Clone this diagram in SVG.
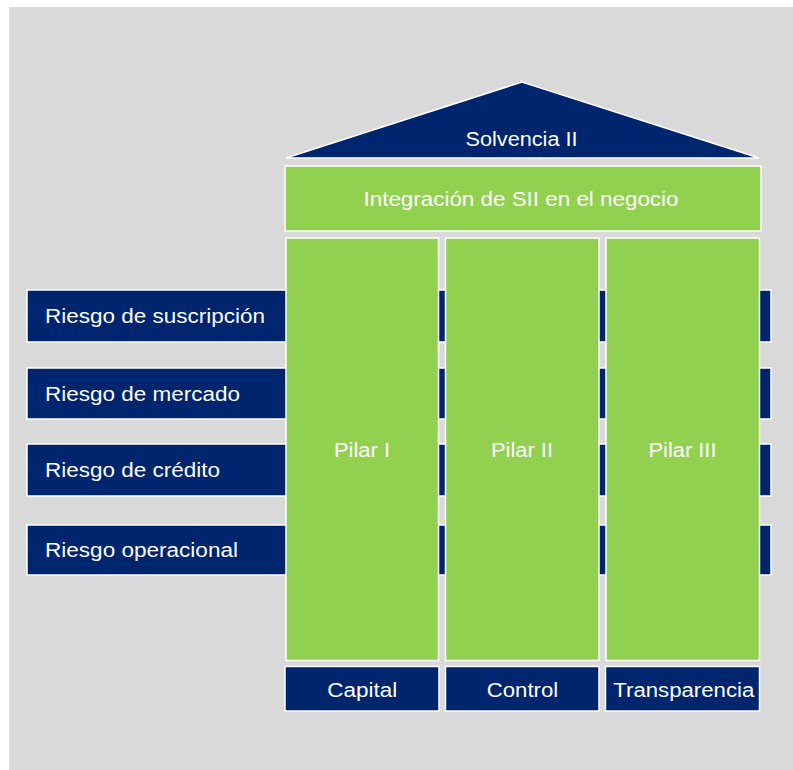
<svg xmlns="http://www.w3.org/2000/svg" width="793" height="770" viewBox="0 0 793 770">
<style>
.blue{fill:#00256F;stroke:#FFFFFF;stroke-width:1.5}
.green{fill:#92D050;stroke:#FFFFFF;stroke-width:1.5}
.t{font-family:"Liberation Sans",Arial,sans-serif;font-size:20px;fill:#FFFFFF}
.c{text-anchor:middle}
</style>
<rect x="0" y="0" width="793" height="770" fill="#FFFFFF"/>
<rect x="9" y="7" width="784" height="763" fill="#D9D9D9"/>
<g id="riesgo-suscripcion">
<rect class="blue" x="27" y="290" width="744" height="52"/>
<text class="t" x="45" y="323" textLength="220" lengthAdjust="spacingAndGlyphs">Riesgo de suscripción</text>
</g>
<g id="riesgo-mercado">
<rect class="blue" x="27" y="368" width="744" height="51"/>
<text class="t" x="45" y="401" textLength="195" lengthAdjust="spacingAndGlyphs">Riesgo de mercado</text>
</g>
<g id="riesgo-credito">
<rect class="blue" x="27" y="444" width="744" height="52"/>
<text class="t" x="45" y="477" textLength="175" lengthAdjust="spacingAndGlyphs">Riesgo de crédito</text>
</g>
<g id="riesgo-operacional">
<rect class="blue" x="27" y="525" width="744" height="50"/>
<text class="t" x="45" y="557" textLength="193" lengthAdjust="spacingAndGlyphs">Riesgo operacional</text>
</g>
<g id="solvencia">
<polygon class="blue" points="522,82 286,158 759,158"/>
<text class="t c" x="521.5" y="146" textLength="112" lengthAdjust="spacingAndGlyphs">Solvencia II</text>
</g>
<g id="integracion">
<rect class="green" x="285" y="166" width="476" height="65"/>
<text class="t c" x="521" y="206" textLength="315" lengthAdjust="spacingAndGlyphs">Integración de SII en el negocio</text>
</g>
<g id="pilar1">
<rect class="green" x="286" y="238" width="152.5" height="422.5"/>
<text class="t c" x="362" y="457" textLength="56" lengthAdjust="spacingAndGlyphs">Pilar I</text>
</g>
<g id="pilar2">
<rect class="green" x="445.5" y="238" width="153.5" height="422.5"/>
<text class="t c" x="522" y="457" textLength="62" lengthAdjust="spacingAndGlyphs">Pilar II</text>
</g>
<g id="pilar3">
<rect class="green" x="606" y="238" width="153.5" height="422.5"/>
<text class="t c" x="682.5" y="457" textLength="68" lengthAdjust="spacingAndGlyphs">Pilar III</text>
</g>
<g id="capital">
<rect class="blue" x="285" y="666.5" width="154" height="44.5"/>
<text class="t c" x="362.3" y="697" textLength="70" lengthAdjust="spacingAndGlyphs">Capital</text>
</g>
<g id="control">
<rect class="blue" x="445.5" y="666.5" width="153.5" height="44.5"/>
<text class="t c" x="522.5" y="697" textLength="71.5" lengthAdjust="spacingAndGlyphs">Control</text>
</g>
<g id="transparencia">
<rect class="blue" x="605.5" y="666.5" width="154" height="44.5"/>
<text class="t c" x="683.8" y="697" textLength="141" lengthAdjust="spacingAndGlyphs">Transparencia</text>
</g>
<g id="connectors"></g>
</svg>
